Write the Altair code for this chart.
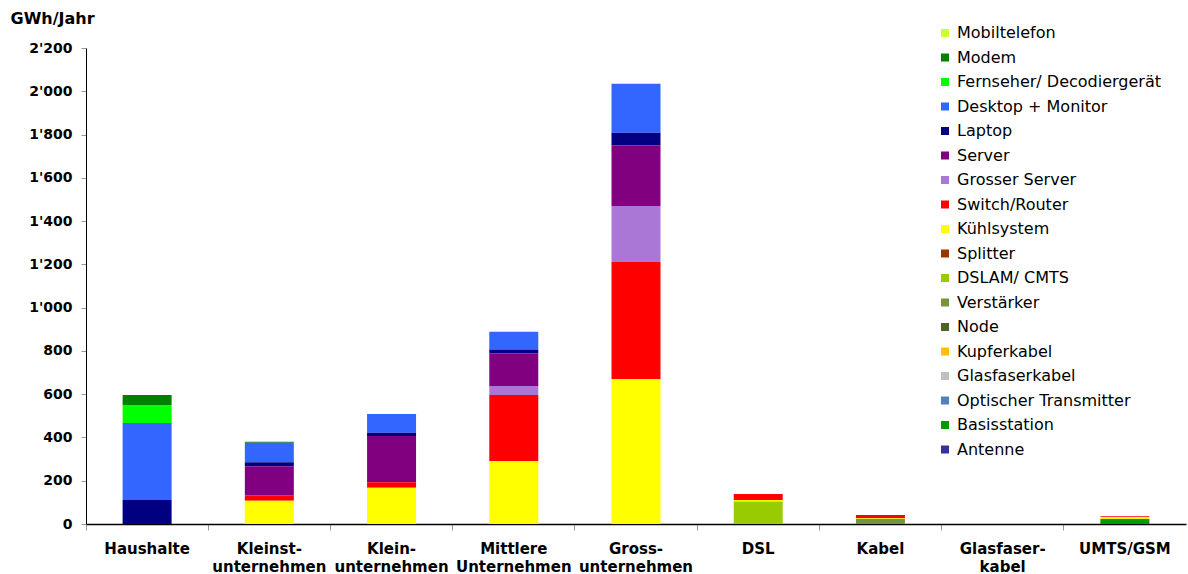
import altair as alt
import pandas as pd

categories = ["Haushalte", "Kleinst-\nunternehmen", "Klein-\nunternehmen", "Mittlere\nUnternehmen",
              "Gross-\nunternehmen", "DSL", "Kabel", "Glasfaser-\nkabel", "UMTS/GSM"]

# legend order (top of legend = top of stack)
components = ["Mobiltelefon", "Modem", "Fernseher/ Decodiergerät", "Desktop + Monitor", "Laptop",
              "Server", "Grosser Server", "Switch/Router", "Kühlsystem", "Splitter", "DSLAM/ CMTS",
              "Verstärker", "Node", "Kupferkabel", "Glasfaserkabel", "Optischer Transmitter",
              "Basisstation", "Antenne"]
colors = ["#CCFF33", "#008000", "#00FF00", "#3366FF", "#000080",
          "#800080", "#AA77D6", "#FF0000", "#FFFF00", "#993300", "#99CC00",
          "#77933C", "#4F6228", "#FFC000", "#C0C0C0", "#4F81BD",
          "#009900", "#333399"]

mobiltelefon = [0, 0, 0, 0, 0, 0, 0, 0, 0]
modem = [46, 4, 0, 0, 0, 0, 0, 0, 0]
fernseher = [83, 0, 0, 0, 0, 0, 0, 0, 0]
desktop = [356, 91, 86, 82, 227, 0, 0, 0, 0]
laptop = [111, 18, 15, 18, 58, 0, 0, 0, 0]
server = [0, 134, 214, 151, 280, 0, 0, 0, 0]
grosser_server = [0, 0, 0, 42, 258, 0, 0, 0, 0]
switch_router = [0, 25, 25, 305, 542, 28, 14, 0, 4]
kuehlsystem = [0, 108, 168, 291, 670, 7, 4, 0, 9]
splitter = [0, 0, 0, 0, 0, 0, 0, 0, 0]
dslam = [0, 0, 0, 0, 0, 104, 0, 0, 0]
verstaerker = [0, 0, 0, 0, 0, 0, 24, 0, 0]
node = [0, 0, 0, 0, 0, 0, 0, 0, 0]
kupferkabel = [0, 0, 0, 0, 0, 0, 0, 0, 0]
glasfaserkabel = [0, 0, 0, 0, 0, 0, 0, 0, 0]
optischer = [0, 0, 0, 0, 0, 0, 0, 0, 0]
basisstation = [0, 0, 0, 0, 0, 0, 0, 0, 23]
antenne = [0, 0, 0, 0, 0, 0, 0, 0, 0]

series = [mobiltelefon, modem, fernseher, desktop, laptop, server, grosser_server,
          switch_router, kuehlsystem, splitter, dslam, verstaerker, node, kupferkabel,
          glasfaserkabel, optischer, basisstation, antenne]

y_ticks = list(range(0, 2201, 200))

rows = []
n = len(components)
for k, (comp, vals) in enumerate(zip(components, series)):
    for cat, v in zip(categories, vals):
        if v > 0:
            rows.append({"cat": cat, "comp": comp, "v": v, "idx": n - 1 - k})
df = pd.DataFrame(rows)

FONT = "DejaVu Sans"

chart = alt.Chart(df).mark_bar(size=49).encode(
    x=alt.X("cat:N", sort=categories,
            scale=alt.Scale(domain=categories, paddingInner=0, paddingOuter=0),
            axis=alt.Axis(title=None, labelAngle=0,
                          labelExpr="split(datum.label, '\\n')",
                          labelFont=FONT, labelFontWeight="bold", labelFontSize=15,
                          labelColor="black", labelLineHeight=18, labelPadding=11,
                          labelBaseline="top",
                          tickColor="#999999", tickSize=6, bandPosition=0,
                          domainColor="black", domainWidth=1.5, labelLimit=200)),
    y=alt.Y("v:Q", stack="zero",
            scale=alt.Scale(domain=[0, 2200], nice=False),
            axis=alt.Axis(values=y_ticks, grid=False,
                          labelExpr="replace(format(datum.value, ','), ',', \"'\")",
                          labelFont=FONT, labelFontWeight="bold", labelFontSize=14,
                          labelColor="black", labelPadding=9,
                          tickColor="#999999", tickSize=5,
                          domainColor="black", domainWidth=1,
                          title="GWh/Jahr", titleAngle=0, titleAlign="left",
                          titleBaseline="middle", titleX=-76, titleY=-30,
                          titleFont=FONT, titleFontWeight="bold", titleFontSize=16,
                          titleColor="black")),
    color=alt.Color("comp:N",
                    scale=alt.Scale(domain=components, range=colors),
                    legend=alt.Legend(title=None, orient="none", legendX=851, legendY=-23,
                                      symbolType="square", symbolSize=64, symbolStrokeWidth=0,
                                      labelFont=FONT, labelFontSize=16, labelColor="black",
                                      rowPadding=8.5, labelOffset=4, padding=0, labelLimit=400)),
    order=alt.Order("idx:Q", sort="ascending"),
).properties(
    width=1100, height=476,
    autosize=alt.AutoSizeParams(type="none"),
    padding={"left": 86, "top": 48, "right": 2, "bottom": 50},
).configure_view(stroke=None)

chart.save("out.html", embed_options={"renderer": "svg", "actions": False})
